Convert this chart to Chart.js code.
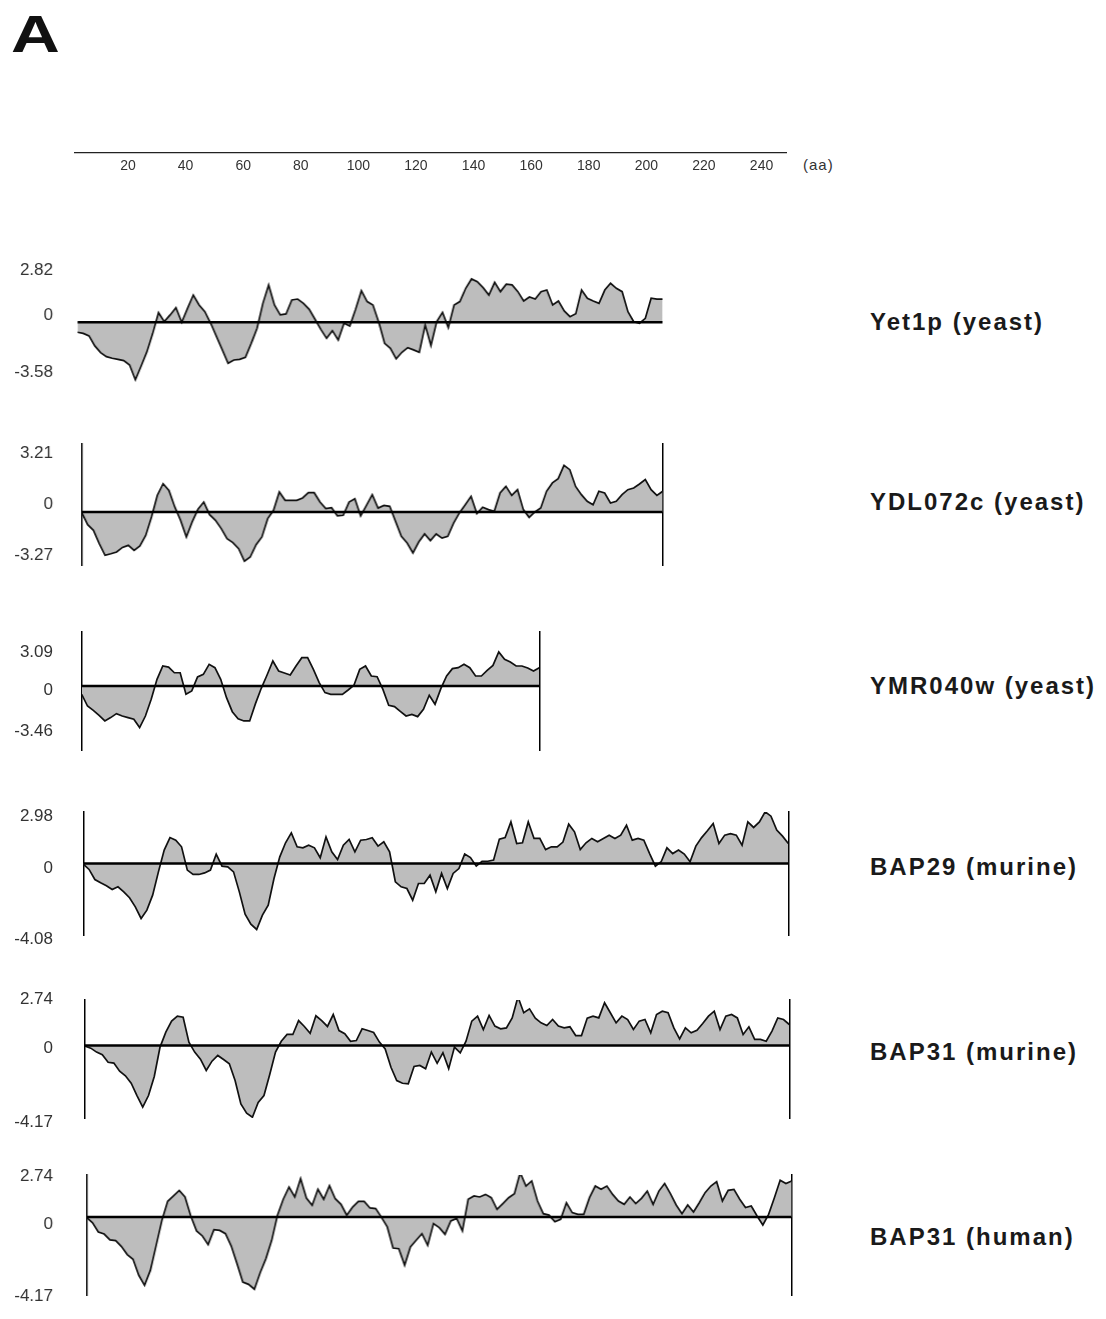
<!DOCTYPE html>
<html>
<head>
<meta charset="utf-8">
<script src="https://cdn.jsdelivr.net/npm/chart.js@4.4.1/dist/chart.umd.min.js"></script>
<style>
    body {
        margin: 0;
        background: #fff;
        width: 1106px;
        height: 1319px;
        position: relative;
        overflow: hidden;
        font-family: "Liberation Sans", Arial, sans-serif;
    }
    .holder { position: absolute; left: 0; }
    .name {
        position: absolute;
        left: 870px;
        font-size: 24px;
        line-height: 24px;
        font-weight: bold;
        letter-spacing: 2px;
        color: #1a1a1a;
        white-space: nowrap;
    }
    #panelLetter {
        position: absolute;
        left: 11px;
        top: 8px;
        font-size: 52px;
        line-height: 52px;
        font-weight: bold;
        color: #111;
        transform: scaleX(1.3);
        transform-origin: left top;
    }
    #aaUnit {
        position: absolute;
        left: 803px;
        top: 156px;
        font-size: 15px;
        line-height: 18px;
        letter-spacing: 1px;
        color: #333;
    }
</style>
</head>
<body>
<div id="panelLetter">A</div>
<div id="aaUnit">(aa)</div>

<script>
// residue step between two plotted values
const STEP = 2;

const axisTicks = [20, 40, 60, 80, 100, 120, 140, 160, 180, 200, 220, 240];

const proteinNames = ['Yet1p (yeast)', 'YDL072c (yeast)', 'YMR040w (yeast)', 'BAP29 (murine)', 'BAP31 (murine)', 'BAP31 (human)'];
const maxLabels = [2.82, 3.21, 3.09, 2.98, 2.74, 2.74];
const minLabels = [-3.58, -3.27, -3.46, -4.08, -4.17, -4.17];

// hydropathy values, read every 2 residues
const yet1pValues = [
    -0.62, -0.69, -0.85, -1.47, -1.89, -2.14, -2.24, -2.31, -2.39, -2.66,
    -3.58, -2.72, -1.83, -0.69, 0.60, 0.04, 0.46, 0.91, 0, 0.87,
    1.70, 1.08, 0.66, -0.06, -0.89, -1.72, -2.55, -2.35, -2.31, -2.18,
    -1.31, -0.37, 1.18, 2.33, 1.08, 0.46, 0.52, 1.39, 1.45, 1.18,
    0.81, 0.19, -0.44, -1.00, -0.52, -1.10, -0.06, -0.23, 0.81, 1.97,
    1.29, 1.08, 0, -1.31, -1.62, -2.28, -1.87, -1.58, -1.72, -1.87,
    -0.17, -1.45, 0.04, 0.62, -0.33, 1.08, 1.29, 2.12, 2.70, 2.53,
    2.16, 1.70, 2.49, 1.91, 2.37, 2.33, 1.91, 1.33, 1.58, 1.45,
    1.91, 2.01, 1.08, 1.33, 0.71, 0.35, 0.54, 2.01, 1.50, 1.33,
    1.18, 2.01, 2.43, 2.12, 1.91, 0.66, 0.04, -0.06, 0.25, 1.50,
    1.45, 1.45
];

const ydl072cValues = [
    -0.04, -0.80, -1.16, -2.00, -2.74, -2.64, -2.53, -2.24, -2.11, -2.43,
    -2.15, -1.48, -0.32, 1.05, 1.79, 1.37, 0.32, -0.53, -1.58, -0.63,
    0.17, 0.63, -0.17, -0.53, -1.05, -1.69, -1.94, -2.32, -3.12, -2.85,
    -2.07, -1.58, -0.42, 0.11, 1.27, 0.74, 0.74, 0.74, 0.89, 1.22,
    1.22, 0.63, 0.21, 0.27, -0.25, -0.21, 0.63, 0.84, -0.25, 0.42,
    1.10, 0.25, 0.42, 0.36, -0.59, -1.54, -1.96, -2.59, -1.90, -1.39,
    -1.81, -1.39, -1.65, -1.54, -0.70, -0.06, 0.46, 0.99, -0.10, 0.30,
    0.15, 0.04, 1.20, 1.62, 1.05, 1.41, 0.15, -0.34, 0, 0.25,
    1.31, 1.84, 2.11, 2.95, 2.68, 1.62, 1.10, 0.68, 0.46, 1.31,
    1.20, 0.57, 0.68, 1.10, 1.41, 1.52, 1.77, 2.05, 1.41, 1.05,
    1.31
];

const ymr040wValues = [
    -0.69, -1.66, -2.02, -2.43, -2.90, -2.62, -2.29, -2.49, -2.62, -2.76,
    -3.45, -2.49, -1.10, 0.55, 1.66, 1.57, 1.10, 1.10, -0.69, -0.41,
    0.75, 0.97, 1.80, 1.52, 0.55, -0.97, -2.13, -2.71, -2.90, -2.90,
    -1.46, -0.19, 0.91, 2.07, 1.24, 1.08, 0.91, 1.66, 2.35, 2.35,
    1.38, 0.28, -0.55, -0.69, -0.69, -0.69, -0.33, 0.06, 1.38, 1.66,
    0.83, 0.77, -0.28, -1.60, -1.71, -2.10, -2.49, -2.35, -2.54, -1.93,
    -0.77, -1.52, -0.22, 0.83, 1.44, 1.52, 1.80, 1.52, 0.83, 0.83,
    1.30, 1.71, 2.82, 2.21, 1.99, 1.66, 1.66, 1.49, 1.24, 1.52
];

const bap29Values = [
    -0.04, -0.34, -0.92, -1.11, -1.28, -1.49, -1.34, -1.63, -1.97, -2.49,
    -3.16, -2.68, -1.82, -0.48, 0.77, 1.49, 1.34, 0.96, -0.38, -0.63,
    -0.63, -0.54, -0.38, 0.54, -0.15, -0.19, -0.48, -1.63, -2.91, -3.49,
    -3.79, -2.97, -2.39, -0.86, 0.38, 1.19, 1.76, 0.96, 0.90, 1.05,
    0.90, 0.33, 1.53, 0.67, 0.23, 1.05, 1.38, 0.67, 1.34, 1.38,
    1.48, 1.00, 1.25, 0.67, -1.05, -1.34, -1.44, -2.11, -1.15, -1.15,
    -0.67, -1.63, -0.57, -1.44, -0.57, -0.29, 0.54, 0.34, -0.15, 0.13,
    0.13, 0.20, 1.40, 1.49, 2.39, 1.15, 1.19, 2.39, 1.44, 1.44,
    0.80, 0.96, 0.96, 1.23, 2.26, 1.82, 0.80, 1.19, 1.44, 1.25,
    1.44, 1.63, 1.44, 1.63, 2.20, 1.34, 1.44, 1.34, 0.57, -0.15,
    0.10, 0.90, 0.57, 0.77, 0.54, 0.10, 1.00, 1.49, 1.88, 2.30,
    1.15, 1.63, 1.72, 1.63, 1.05, 2.39, 2.07, 2.39, 2.97, 2.72,
    1.92, 1.57, 1.15
];

const bap31MurineValues = [
    -0.04, -0.15, -0.37, -0.52, -0.94, -0.99, -1.44, -1.70, -2.12, -2.81,
    -3.46, -2.81, -1.74, -0.09, 0.75, 1.37, 1.65, 1.59, 0.19, -0.37,
    -0.77, -1.40, -0.88, -0.56, -0.79, -1.03, -1.97, -3.28, -3.80, -4.03,
    -3.20, -2.81, -1.63, -0.37, 0.24, 0.62, 0.62, 1.40, 1.07, 0.69,
    1.67, 1.40, 1.07, 1.74, 0.84, 0.66, 0.24, 0.28, 0.94, 0.84,
    0.73, 0.19, -0.19, -1.22, -1.97, -2.12, -2.15, -1.18, -1.12, -1.31,
    -0.37, -1.00, -0.41, -1.30, -0.09, -0.41, 0.24, 1.37, 1.65, 0.90,
    1.69, 1.09, 0.94, 0.99, 1.55, 2.73, 1.84, 2.06, 1.54, 1.27,
    1.12, 1.46, 1.09, 0.99, 1.05, 0.56, 0.56, 1.54, 1.65, 1.55,
    2.40, 1.84, 1.27, 1.65, 1.46, 0.90, 1.37, 1.46, 0.71, 1.74,
    1.93, 1.84, 0.99, 0.37, 0.99, 0.71, 0.86, 1.24, 1.65, 1.93,
    0.90, 1.65, 1.74, 1.55, 0.62, 1.05, 0.34, 0.34, 0.24, 0.81,
    1.55, 1.46, 1.18
];

const bap31HumanValues = [
    -0.04, -0.33, -0.86, -0.98, -1.32, -1.36, -1.70, -2.16, -2.43, -3.35,
    -3.93, -3.07, -1.63, -0.19, 0.90, 1.21, 1.53, 1.15, 0.06, -0.80,
    -1.09, -1.59, -0.73, -0.77, -0.96, -1.67, -2.68, -3.74, -3.87, -4.15,
    -3.20, -2.39, -1.34, 0.10, 1.02, 1.72, 1.15, 2.20, 1.09, 0.67,
    1.59, 1.02, 1.80, 1.05, 0.73, 0.10, 0.57, 0.90, 0.90, 0.52,
    0.48, -0.02, -0.57, -1.78, -1.82, -2.78, -1.72, -1.34, -0.96, -1.63,
    -0.38, -0.61, -1.00, -0.23, -0.08, -0.80, 1.02, 1.21, 1.15, 1.30,
    1.11, 0.44, 0.77, 1.11, 1.34, 2.55, 1.78, 2.07, 0.92, 0.19,
    0.11, -0.27, -0.13, 0.82, 0.25, 0.15, 0.15, 1.11, 1.78, 1.59,
    1.78, 1.30, 0.92, 0.73, 1.15, 0.77, 1.07, 1.49, 0.73, 1.49,
    1.92, 1.34, 0.69, 0.19, 0.69, 0.29, 0.82, 1.40, 1.78, 2.03,
    0.92, 1.53, 1.59, 1.02, 0.54, 0.63, 0.06, -0.46, 0.15, 1.11,
    2.11, 1.92, 2.07
];

const panelValues = [yet1pValues, ydl072cValues, ymr040wValues, bap29Values, bap31MurineValues, bap31HumanValues];

// where each plot sits on the page (pixels)
const panelBoxes = [
    { left: 77.3, right: 661.7, top: 268, bottom: 388, zero: 322.3, pxPerUnit: 16.05, frame: false, nameY: 310, labelShift: -7 },
    { left: 81.7, right: 661.7, top: 444, bottom: 565, zero: 512, pxPerUnit: 15.8, frame: true, nameY: 490, labelShift: -8 },
    { left: 81.7, right: 539.3, top: 632, bottom: 750, zero: 686, pxPerUnit: 12.06, frame: true, nameY: 674, labelShift: 4 },
    { left: 83.3, right: 788.3, top: 812, bottom: 935, zero: 863.5, pxPerUnit: 17.4, frame: true, nameY: 855, labelShift: 5 },
    { left: 85, right: 789.3, top: 1000, bottom: 1118, zero: 1045.5, pxPerUnit: 17.8, frame: true, nameY: 1040, labelShift: 3 },
    { left: 86.7, right: 790.7, top: 1175, bottom: 1295, zero: 1217, pxPerUnit: 17.4, frame: true, nameY: 1225, labelShift: 7 }
];

function addHolder(top, width, height) {
    const holder = document.createElement('div');
    holder.className = 'holder';
    holder.style.top = top + 'px';
    holder.style.width = width + 'px';
    holder.style.height = height + 'px';
    const canvas = document.createElement('canvas');
    holder.appendChild(canvas);
    document.body.appendChild(holder);
    return canvas;
}

function drawTopAxis() {
    // chart area ends at y = 153, axis box is 30px tall below it
    const canvas = addHolder(100, 800, 83);
    new Chart(canvas, {
        type: 'line',
        data: { datasets: [] },
        options: {
            responsive: true,
            maintainAspectRatio: false,
            animation: false,
            layout: { padding: { left: 75, right: 14, top: 0, bottom: 0 } },
            plugins: { legend: { display: false }, tooltip: { enabled: false } },
            scales: {
                x: {
                    type: 'linear',
                    position: 'bottom',
                    min: 1.6,
                    max: 248.5,
                    afterBuildTicks: (scale) => {
                        scale.ticks = axisTicks.map(v => ({ value: v }));
                    },
                    afterFit: (scale) => { scale.height = 30; },
                    grid: { display: false, drawTicks: false },
                    border: { display: true, color: '#222', width: 1.3 },
                    ticks: {
                        padding: 5,
                        color: '#333',
                        maxRotation: 0,
                        font: { size: 14, family: 'Liberation Sans' },
                        callback: (v) => String(v)
                    }
                },
                y: { display: false, min: 0, max: 1 }
            }
        }
    });
}

function drawPanel(i) {
    const box = panelBoxes[i];
    const values = panelValues[i];
    // tick padding of the y axis is also added above and below the plot, so keep a wide margin
    const pad = 44;
    const canvas = addHolder(box.top - pad, box.right + 12, box.bottom - box.top + 2 * pad);

    const lastX = (values.length - 1) * STEP;
    const points = values.map((v, k) => ({ x: k * STEP, y: v }));
    const yMax = (box.zero - box.top) / box.pxPerUnit;
    const yMin = -(box.bottom - box.zero) / box.pxPerUnit;

    new Chart(canvas, {
        type: 'line',
        data: {
            datasets: [
                {
                    // baseline
                    data: [{ x: 0, y: 0 }, { x: lastX, y: 0 }],
                    borderColor: '#000',
                    borderWidth: 2.6,
                    pointRadius: 0,
                    fill: false
                },
                {
                    data: points,
                    borderColor: '#111',
                    borderWidth: 1.7,
                    backgroundColor: '#bdbdbd',
                    fill: 'origin',
                    pointRadius: 0,
                    tension: 0
                }
            ]
        },
        options: {
            responsive: true,
            maintainAspectRatio: false,
            animation: false,
            layout: { padding: { top: pad, bottom: pad, left: 0, right: 12 } },
            plugins: { legend: { display: false }, tooltip: { enabled: false } },
            scales: {
                x: { type: 'linear', display: false, min: 0, max: lastX },
                y: {
                    min: yMin,
                    max: yMax,
                    bounds: 'data',
                    afterFit: (scale) => { scale.width = box.left; },
                    afterBuildTicks: (scale) => {
                        scale.ticks = [{ value: minLabels[i] }, { value: 0 }, { value: maxLabels[i] }];
                    },
                    grid: { display: false, drawTicks: false },
                    border: { display: box.frame, color: '#000', width: 1.5 },
                    ticks: {
                        padding: box.left - 53,
                        labelOffset: box.labelShift,
                        color: '#333',
                        font: { size: 17, family: 'Liberation Sans' },
                        callback: (v) => String(v)
                    }
                },
                y2: {
                    position: 'right',
                    display: box.frame,
                    min: 0,
                    max: 1,
                    afterFit: (scale) => { scale.width = 0; },
                    grid: { display: false, drawTicks: false },
                    border: { display: true, color: '#000', width: 1.5 },
                    ticks: { display: false }
                }
            }
        }
    });

    const label = document.createElement('div');
    label.className = 'name';
    label.style.top = box.nameY + 'px';
    label.textContent = proteinNames[i];
    document.body.appendChild(label);
}

drawTopAxis();
for (let i = 0; i < panelValues.length; i++) {
    drawPanel(i);
}
</script>
</body>
</html>
